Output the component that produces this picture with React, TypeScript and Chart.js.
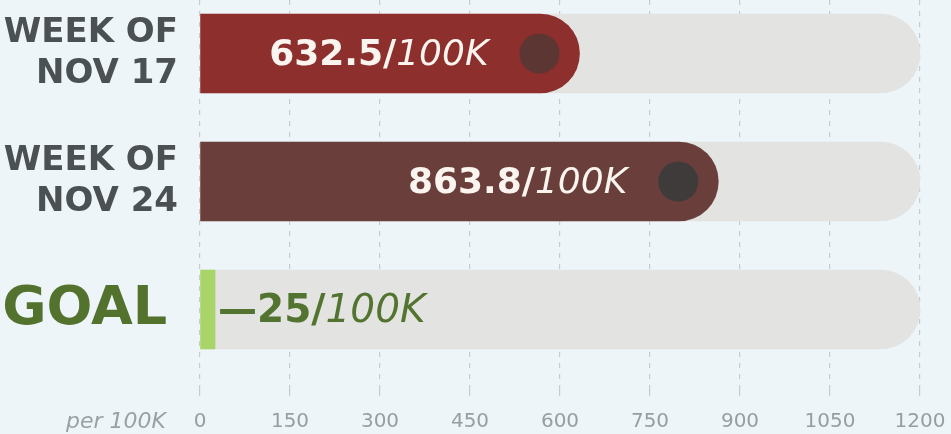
import React, { useEffect, useRef } from "react";
import { Chart, registerables } from "chart.js";

Chart.register(...registerables);

const categories: string[][] = [["WEEK OF", "NOV 17"], ["WEEK OF", "NOV 24"], ["GOAL\u2009"]];
const values: number[] = [632.5, 863.8, 25];
const trackValues: number[] = [1200, 1200, 1200];
const xTicks: number[] = [0, 150, 300, 450, 600, 750, 900, 1050, 1200];
const unitLabel = "/100K";
const axisTitle = "per 100K";

const barColors = ["#8c2f2d", "#6a3f3b", "#a8d468"];
const dotColors = ["#5c3632", "#3e3b3a"];
const bg = "#eef5f9";
const FONT = "'DejaVu Sans', sans-serif";

const labelPlugin = {
  id: "barLabels",
  afterDatasetsDraw(chart: any) {
    const ctx = chart.ctx;
    const meta = chart.getDatasetMeta(0);
    meta.data.forEach((el: any, i: number) => {
      const end = el.x;
      const y = el.y;
      ctx.save();
      ctx.textBaseline = "middle";
      ctx.textAlign = "left";
      const ital = unitLabel.slice(1);
      if (i < 2) {
        ctx.fillStyle = dotColors[i];
        ctx.beginPath();
        ctx.arc(end - 40, y, 20, 0, Math.PI * 2);
        ctx.fill();
        const bold = values[i].toFixed(1) + "/";
        ctx.font = `300 italic 36px ${FONT}`;
        const w2 = ctx.measureText(ital).width;
        ctx.font = `bold 36px ${FONT}`;
        const w1 = ctx.measureText(bold).width;
        const right = end - 91;
        ctx.fillStyle = "#fbf4ef";
        ctx.fillText(bold, right - w1 - w2, y + 2);
        ctx.font = `300 italic 36px ${FONT}`;
        ctx.fillText(ital, right - w2, y + 2);
      } else {
        const bold = "—" + values[i] + "/";
        ctx.fillStyle = "#537430";
        ctx.font = `bold 39px ${FONT}`;
        const x0 = end + 3;
        ctx.fillText(bold, x0, y + 2);
        const w1 = ctx.measureText(bold).width;
        ctx.font = `300 italic 39px ${FONT}`;
        ctx.fillText(ital, x0 + w1, y + 2);
      }
      ctx.restore();
    });
    const xs = chart.scales.x;
    ctx.save();
    ctx.font = `italic 22px ${FONT}`;
    ctx.fillStyle = "#9aa1a5";
    ctx.textAlign = "right";
    ctx.textBaseline = "middle";
    ctx.fillText(axisTitle, 166, xs.top + 34);
    ctx.restore();
  },
};

export default function App() {
  const ref = useRef<HTMLCanvasElement>(null);
  useEffect(() => {
    document.body.style.margin = "0";
    document.body.style.background = bg;
    const chart = new Chart(ref.current!, {
      type: "bar",
      data: {
        datasets: [
          {
            data: values.map((v, i) => ({ x: v, y: i })),
            backgroundColor: barColors,
            borderRadius: values.map((v, i) => (i < 2 ? 40 : 0)),
            borderSkipped: "start",
            barThickness: 79,
            grouped: false,
            order: 1,
          } as any,
          {
            data: trackValues.map((v, i) => ({ x: v, y: i })),
            backgroundColor: "#e3e3e1",
            borderRadius: 40,
            borderSkipped: "start",
            barThickness: 79,
            grouped: false,
            order: 2,
          } as any,
        ],
      },
      options: {
        indexAxis: "y",
        animation: false,
        responsive: true,
        maintainAspectRatio: false,
        layout: { padding: { top: 0, right: 31, left: 0, bottom: 0 } },
        plugins: { legend: { display: false }, tooltip: { enabled: false } },
        scales: {
          x: {
            type: "linear",
            min: 0,
            max: 1200,
            offset: false,
            afterBuildTicks: (s: any) => {
              s.ticks = xTicks.map((v) => ({ value: v }));
            },
            afterFit: (s: any) => {
              s.height = 46;
              s.paddingLeft = 0;
              s.paddingRight = 0;
            },
            grid: {
              color: "#c6cbce",
              lineWidth: 1.2,
              tickLength: 8,
              drawTicks: true,
            },
            border: { display: false, dash: [5, 6] },
            ticks: {
              padding: 14,
              color: "#979ea2",
              font: { family: FONT, size: 20 },
              maxRotation: 0,
              autoSkip: false,
              callback: (v: any) => String(v),
            },
          },
          y: {
            type: "linear",
            reverse: true,
            offset: false,
            min: -0.418,
            max: 2.613,
            afterBuildTicks: (s: any) => {
              s.ticks = categories.map((_, i) => ({ value: i }));
            },
            afterFit: (s: any) => {
              s.width = 200;
              s.paddingTop = 0;
              s.paddingBottom = 0;
            },
            grid: { display: false, drawTicks: false },
            border: { display: false },
            ticks: {
              padding: 22,
              autoSkip: false,
              callback: (v: any) => categories[v as number],
              color: (c: any) => (c.index === 2 ? "#52722e" : "#4b5153"),
              font: (c: any) =>
                c.index === 2
                  ? { family: FONT, size: 54, weight: "bold", lineHeight: 1 }
                  : { family: FONT, size: 34, weight: "bold", lineHeight: 1.2 },
            } as any,
          },
        },
      } as any,
      plugins: [labelPlugin],
    });
    return () => chart.destroy();
  }, []);
  return (
    <div style={{ width: 951, height: 434, position: "relative", background: bg }}>
      <canvas ref={ref} />
    </div>
  );
}
